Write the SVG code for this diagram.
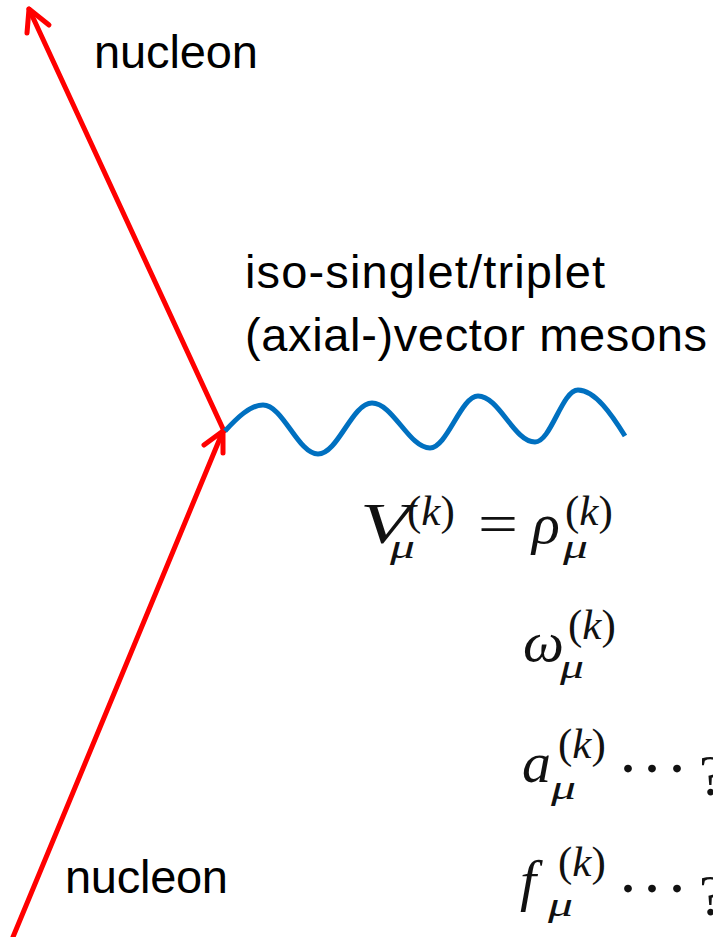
<svg xmlns="http://www.w3.org/2000/svg" width="713" height="937" viewBox="0 0 713 937">
<style>
.lbl{font-family:"Liberation Sans","DejaVu Sans",sans-serif;font-size:47px;fill:#000}
.m{font-family:"Liberation Serif","DejaVu Serif",serif;font-style:italic;fill:#111}
.main{font-size:58px}
.sup{font-size:43px}
.sub{font-size:34px}
.up{font-style:normal}
.red{fill:none;stroke:#FF0000;stroke-width:5;stroke-linecap:round;stroke-linejoin:round}
.wave{fill:none;stroke:#0070C0;stroke-width:5}
</style>
<rect width="713" height="937" fill="#fff"/>
<g id="connectors">
<g id="outgoing-nucleon">
<line class="red" x1="224" y1="431" x2="29" y2="9"/>
<polyline class="red" points="27,33 29,9 49,25"/>
</g>
<g id="incoming-nucleon">
<line class="red" x1="13" y1="937" x2="223" y2="431"/>
<polyline class="red" points="204,445 223,431 223,453"/>
</g>
<path id="meson-line" class="wave" d="M225,431 C237,418 250,405 263,405 C283,405 298,454 318,454 C338,454 352,403 372,403 C393,403 409,448 430,448 C447,448 461,396 478,396 C499,396 514,442 535,442 C551,442 562,390 578,390 C595,390 612,415 625,436"/>
</g>
<g id="label-nucleon-top"><text class="lbl" x="94" y="68" textLength="164" lengthAdjust="spacing">nucleon</text></g>
<g id="label-nucleon-bottom"><text class="lbl" x="65" y="893" textLength="163" lengthAdjust="spacing">nucleon</text></g>
<g id="label-mesons">
<text class="lbl" x="245" y="288" textLength="360" lengthAdjust="spacing">iso-singlet/triplet</text>
<text class="lbl" x="245" y="351" textLength="462" lengthAdjust="spacing">(axial-)vector mesons</text>
</g>
<g id="eq-V">
<text class="m main" x="360" y="543" textLength="50" lengthAdjust="spacingAndGlyphs">V</text>
<text class="m sub" x="390" y="558" textLength="25" lengthAdjust="spacingAndGlyphs">μ</text>
<text class="m sup" x="407" y="525"><tspan class="up">(</tspan>k<tspan class="up">)</tspan></text>
<text class="m main up" x="498" y="543" text-anchor="middle" textLength="40" lengthAdjust="spacingAndGlyphs">=</text>
<text class="m main" x="532" y="543">ρ</text>
<text class="m sub" x="563" y="558" textLength="25" lengthAdjust="spacingAndGlyphs">μ</text>
<text class="m sup" x="565" y="525"><tspan class="up">(</tspan>k<tspan class="up">)</tspan></text>
</g>
<g id="eq-omega">
<text class="m main" x="523" y="661">ω</text>
<text class="m sub" x="560" y="678" textLength="24" lengthAdjust="spacingAndGlyphs">μ</text>
<text class="m sup" x="568" y="639"><tspan class="up">(</tspan>k<tspan class="up">)</tspan></text>
</g>
<g id="eq-a">
<text class="m main" x="522" y="782">a</text>
<text class="m sub" x="551" y="799" textLength="25" lengthAdjust="spacingAndGlyphs">μ</text>
<text class="m sup" x="558" y="758"><tspan class="up">(</tspan>k<tspan class="up">)</tspan></text>
<text class="m up" font-size="66" x="628 652 677" y="772" text-anchor="middle">...</text>
<text class="m main up" x="699" y="795">?</text>
</g>
<g id="eq-f">
<text class="m main" x="520" y="900">f</text>
<text class="m sub" x="548" y="916" textLength="25" lengthAdjust="spacingAndGlyphs">μ</text>
<text class="m sup" x="558" y="876"><tspan class="up">(</tspan>k<tspan class="up">)</tspan></text>
<text class="m up" font-size="66" x="628 652 677" y="892" text-anchor="middle">...</text>
<text class="m main up" x="699" y="915">?</text>
</g>
</svg>
